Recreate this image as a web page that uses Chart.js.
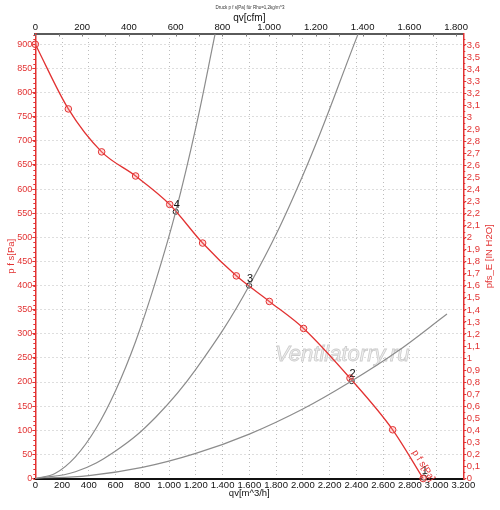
<!DOCTYPE html>
<html>
<head>
<meta charset="utf-8">
<script src="https://cdn.jsdelivr.net/npm/chart.js@4.4.1/dist/chart.umd.min.js"></script>
<style>
  html, body { margin: 0; padding: 0; background: #fff; }
  #wrap { width: 500px; height: 510px; }
</style>
</head>
<body>
<div id="wrap"><canvas id="chart-fan"></canvas></div>
<script>
// fan curve, p f s [Pa] over qv [m^3/h]
const fanQ = [0, 247, 496, 750, 1005, 1251, 1503, 1750, 2006, 2353, 2672, 2900];
const fanP = [900, 766, 677, 627, 568, 488, 420, 367, 311, 208, 101, 0];

// system curves
const sys4Q = [0, 150, 300, 450, 600, 750, 900, 1050, 1200, 1344];
const sys4P = [0, 11, 45, 102, 182, 284, 409, 553, 727, 921];
const sys3Q = [0, 300, 600, 900, 1200, 1600, 2000, 2413];
const sys3P = [0, 14, 57, 127, 226, 400, 628, 921];
const sys2Q = [0, 400, 800, 1200, 1600, 2000, 2365, 2700, 3078];
const sys2P = [0, 6, 23, 52, 92, 144, 202, 262, 341];

// operating points
const opQ = [2905, 2365, 1598, 1050];
const opP = [2, 202, 400, 553];
const opLabels = ['1', '2', '3', '4'];

// tick labels
const qTicks = [0, 200, 400, 600, 800, 1000, 1200, 1400, 1600, 1800, 2000, 2200, 2400, 2600, 2800, 3000, 3200];
const cfmTicks = [0, 200, 400, 600, 800, 1000, 1200, 1400, 1600, 1800];
const paTicks = [0, 50, 100, 150, 200, 250, 300, 350, 400, 450, 500, 550, 600, 650, 700, 750, 800, 850, 900];
const inTicks = [0, 0.1, 0.2, 0.3, 0.4, 0.5, 0.6, 0.7, 0.8, 0.9, 1, 1.1, 1.2, 1.3, 1.4, 1.5, 1.6, 1.7, 1.8,
  1.9, 2, 2.1, 2.2, 2.3, 2.4, 2.5, 2.6, 2.7, 2.8, 2.9, 3, 3.1, 3.2, 3.3, 3.4, 3.5, 3.6];

const RED = '#e23232';
const FONT = "'Liberation Sans', Arial, sans-serif";

function pairs(xs, ys) {
  return xs.map((x, i) => ({ x: x, y: ys[i] }));
}
function fmtK(v) {
  if (v < 1000) return String(v);
  return Math.floor(v / 1000) + '.' + String(v % 1000).padStart(3, '0');
}
function fmtIn(v) {
  return v.toFixed(1).replace(/\.0$/, '').replace('.', ',');
}
function setTicks(list) {
  return (scale) => { scale.ticks = list.map(v => ({ value: v })); };
}

const extras = {
  id: 'extras',
  beforeDatasetsDraw(chart) {
    const c = chart.ctx;
    c.save();
    c.font = "italic 22px " + FONT;
    c.textBaseline = 'alphabetic';
    c.textAlign = 'left';
    c.fillStyle = '#f0f0f0';
    c.strokeStyle = '#cdcdcd';
    c.lineWidth = 0.8;
    c.fillText('Ventilatorry.ru', 275, 361);
    c.strokeText('Ventilatorry.ru', 275, 361);
    c.restore();
  },
  afterDraw(chart) {
    const c = chart.ctx;
    const sx = chart.scales.x, sy = chart.scales.y, sy2 = chart.scales.y2, sx2 = chart.scales.x2;
    c.save();

    // tiny title
    c.fillStyle = '#333';
    c.font = '4.5px ' + FONT;
    c.textAlign = 'center';
    c.textBaseline = 'middle';
    c.fillText('Druck p f s[Pa] für Rho=1,2kg/m^3', 250, 8);

    // right axis title
    c.save();
    c.translate(489, (chart.chartArea.top + chart.chartArea.bottom) / 2);
    c.rotate(-Math.PI / 2);
    c.fillStyle = RED;
    c.font = '9.5px ' + FONT;
    c.fillText('pfs_E [IN H2O]', 0, 0);
    c.restore();

    // minor ticks
    c.strokeStyle = RED;
    c.lineWidth = 1;
    c.beginPath();
    for (let v = 0; v <= 920; v += 10) {
      const y = Math.round(sy.getPixelForValue(v)) + 0.5;
      c.moveTo(sy.right - 2, y); c.lineTo(sy.right, y);
    }
    for (let v = 0; v <= 3.68; v += 0.05) {
      const y = Math.round(sy2.getPixelForValue(v)) + 0.5;
      c.moveTo(sy2.left, y); c.lineTo(sy2.left + 2, y);
    }
    c.stroke();
    c.strokeStyle = '#777';
    c.beginPath();
    for (let v = 0; v <= 1830; v += 100) {
      const x = Math.round(sx2.getPixelForValue(v)) + 0.5;
      c.moveTo(x, sx2.bottom); c.lineTo(x, sx2.bottom + 2.5);
    }
    c.stroke();

    // operating point numbers
    c.fillStyle = '#111';
    c.font = '11px ' + FONT;
    c.textAlign = 'center';
    c.textBaseline = 'middle';
    opLabels.forEach((t, i) => {
      c.fillText(t, sx.getPixelForValue(opQ[i]) + 1, sy.getPixelForValue(opP[i]) - 7);
    });

    // curve label along the last fan segment
    const n = fanQ.length;
    const x0 = sx.getPixelForValue(fanQ[n - 2]), y0 = sy.getPixelForValue(fanP[n - 2]);
    const x1 = sx.getPixelForValue(fanQ[n - 1]), y1 = sy.getPixelForValue(fanP[n - 1]);
    const ang = Math.atan2(y1 - y0, x1 - x0);
    const ux = Math.cos(ang), uy = Math.sin(ang);
    const cx = (x0 + x1) / 2 + ux * 18 + uy * 7;
    const cy = (y0 + y1) / 2 + uy * 18 - ux * 7;
    c.save();
    c.translate(cx, cy);
    c.rotate(ang);
    c.fillStyle = RED;
    c.font = '9.5px ' + FONT;
    c.fillText('p f s[Pa]', 0, 0);
    c.restore();

    c.restore();
  }
};

const chartFan = new Chart(
  document.getElementById('chart-fan').getContext('2d'),
  { type: 'scatter',
    data: {
      datasets: [
        { label: 'Anlage 4', data: pairs(sys4Q, sys4P), showLine: true,
          borderColor: '#8c8c8c', borderWidth: 1.2, pointRadius: 0, tension: 0.4 },
        { label: 'Anlage 3', data: pairs(sys3Q, sys3P), showLine: true,
          borderColor: '#8c8c8c', borderWidth: 1.2, pointRadius: 0, tension: 0.4 },
        { label: 'Anlage 2', data: pairs(sys2Q, sys2P), showLine: true,
          borderColor: '#8c8c8c', borderWidth: 1.2, pointRadius: 0, tension: 0.4 },
        { label: 'p f s[Pa]', data: pairs(fanQ, fanP), showLine: true, clip: false,
          borderColor: RED, borderWidth: 1.3, cubicInterpolationMode: 'monotone',
          pointRadius: 3.3, pointBorderWidth: 1, pointBorderColor: RED,
          pointBackgroundColor: 'rgba(255,140,140,0.3)' },
        { label: 'Betriebspunkte', data: pairs(opQ, opP), showLine: false, clip: false,
          pointRadius: 2.6, pointBorderWidth: 1, pointBorderColor: '#222', pointBackgroundColor: '#fff' }
      ]
    },
    options: {
      responsive: true,
      maintainAspectRatio: false,
      animation: false,
      layout: { padding: 0 },
      plugins: { legend: { display: false }, title: { display: false }, tooltip: { enabled: false } },
      scales: {
        x: {
          type: 'linear', position: 'bottom', min: 0, max: 3200,
          afterBuildTicks: setTicks(qTicks),
          afterFit: (s) => { s.height = 31.5; },
          ticks: { color: '#111', padding: 1.5, maxRotation: 0, autoSkip: false,
            font: { family: FONT, size: 9.5 }, callback: (v) => fmtK(v) },
          grid: { color: '#bcbcbc', lineWidth: 1, drawTicks: false },
          border: { color: '#111', width: 2, dash: [1, 3] },
          title: { display: true, text: 'qv[m^3/h]', color: '#111',
            font: { family: FONT, size: 9.5 }, padding: { top: 0, bottom: 11 } }
        },
        x2: {
          type: 'linear', position: 'top', min: 0, max: 1831,
          afterBuildTicks: setTicks(cfmTicks),
          afterFit: (s) => { s.height = 34; },
          ticks: { color: '#111', padding: 1, maxRotation: 0, autoSkip: false,
            font: { family: FONT, size: 9.5 }, callback: (v) => fmtK(v) },
          grid: { display: false, drawTicks: false },
          border: { color: '#5a5a5a', width: 2 },
          title: { display: true, text: 'qv[cfm]', color: '#111',
            font: { family: FONT, size: 10 }, padding: { top: 12, bottom: 0 } }
        },
        y: {
          type: 'linear', position: 'left', min: 0, max: 921.3,
          afterBuildTicks: setTicks(paTicks),
          afterFit: (s) => { s.width = 35.3; },
          ticks: { color: RED, padding: 0, font: { family: FONT, size: 9 } },
          grid: { color: '#bcbcbc', lineWidth: 1, tickLength: 3, tickColor: RED },
          border: { color: RED, width: 1.5, dash: [1, 3] },
          title: { display: true, text: 'p f s[Pa]', color: RED,
            font: { family: FONT, size: 9.5 }, padding: { top: 6, bottom: 0 } }
        },
        y2: {
          type: 'linear', position: 'right', min: 0, max: 3.691,
          afterBuildTicks: setTicks(inTicks),
          afterFit: (s) => { s.width = 36.7; },
          ticks: { color: RED, padding: 0.5, autoSkip: false,
            font: { family: FONT, size: 9.5 }, callback: (v) => fmtIn(v) },
          grid: { drawOnChartArea: false, tickLength: 3, tickColor: RED },
          border: { color: RED, width: 1.5 }
        }
      }
    },
    plugins: [extras]
  }
); /* <-- End 'chartFan' */
</script>
</body>
</html>
